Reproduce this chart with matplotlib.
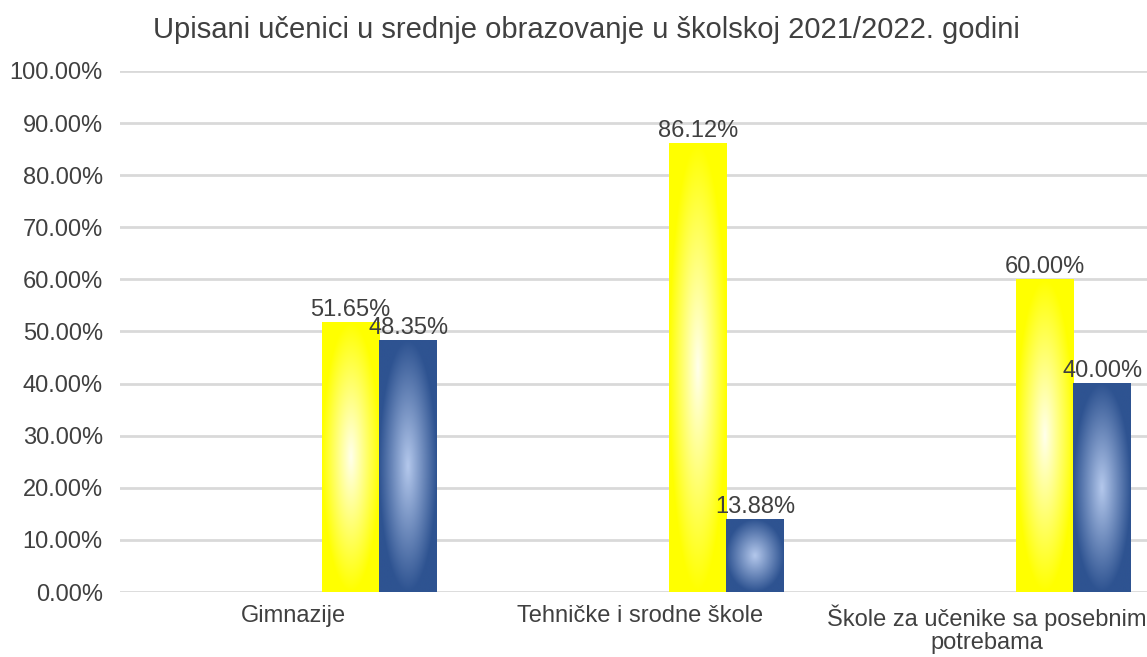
import numpy as np
import matplotlib
matplotlib.use('Agg')
import matplotlib.pyplot as plt
from matplotlib.colors import to_rgb

plt.rcParams['font.family'] = ['Liberation Sans', 'DejaVu Sans']

title = 'Upisani učenici u srednje obrazovanje u školskoj 2021/2022. godini'
categories = ['Gimnazije', 'Tehničke i srodne škole', 'Škole za učenike sa posebnim\npotrebama']
yellow_vals = [51.65, 86.12, 60.00]
blue_vals = [48.35, 13.88, 40.00]

# edge colour, centre colour of the radial fill
yellow_cols = ('#FFFF00', '#FFFFEC')
blue_cols = ('#2E5391', '#B4C8EC')

fig = plt.figure(figsize=(11.47, 6.57), dpi=100)
ax = fig.add_axes([0.1042, 0.0989, 0.9076, 0.7931])

w = 0.166
x = np.arange(len(categories))


def grad_img(edge, centre, n=150):
    yy, xx = np.mgrid[-1:1:n * 1j, -1:1:n * 1j]
    r = np.clip(np.sqrt(xx ** 2 + yy ** 2), 0, 1)
    t = 1 - r
    e = np.array(to_rgb(edge))
    c = np.array(to_rgb(centre))
    return e[None, None, :] * (1 - t[..., None]) + c[None, None, :] * t[..., None]


for vals, off, cols in [(yellow_vals, w, yellow_cols), (blue_vals, 2 * w, blue_cols)]:
    bars = ax.bar(x + off, vals, width=w, color=cols[0], zorder=2)
    img = grad_img(*cols)
    for b, v in zip(bars, vals):
        x0 = b.get_x()
        ax.imshow(img, extent=[x0, x0 + w, 0, v], aspect='auto', zorder=3,
                  interpolation='bilinear')
        ax.text(x0 + w / 2, v + 0.3, f'{v:.2f}%', ha='center', va='bottom',
                fontsize=17, color='#404040', zorder=5)

ax.set_xlim(-0.5, 2.5)
ax.set_ylim(0, 100)
ax.set_yticks(np.arange(0, 101, 10))
ax.set_yticklabels([f'{t:.2f}%' for t in np.arange(0, 101, 10)])
ax.set_xticks(x)
ax.set_xticklabels(categories, linespacing=1.05)
ax.tick_params(length=0, labelsize=17, labelcolor='#404040')
ax.tick_params(axis='y', pad=12)
ax.tick_params(axis='x', pad=9)
ax.grid(axis='y', color='#D9D9D9', linewidth=2, zorder=0)
ax.set_axisbelow(True)
for s in ax.spines.values():
    s.set_visible(False)

fig.text(0.511, 0.954, title, ha='center', va='center', fontsize=21, color='#404040')

fig.savefig('out.png', dpi=100)
